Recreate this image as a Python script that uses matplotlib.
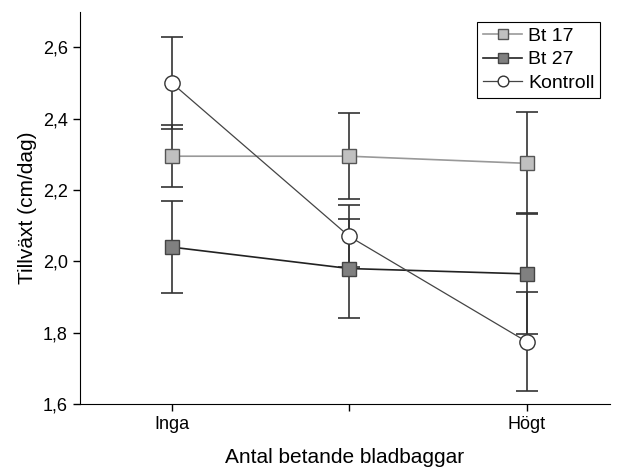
import matplotlib.pyplot as plt
import numpy as np

plt.rcParams['font.family'] = ['Liberation Sans', 'DejaVu Sans']

# data
levels = ['Inga', '', 'Högt']
bt17 = [2.295, 2.295, 2.275]
bt17_err = [0.087, 0.12, 0.143]
bt27 = [2.04, 1.98, 1.965]
bt27_err = [0.13, 0.14, 0.17]
kontroll = [2.50, 2.07, 1.775]
kontroll_err = [0.13, 0.087, 0.138]

x = np.arange(len(levels))

fig = plt.figure(figsize=(6.18, 4.72), dpi=100)
ax = fig.add_axes([0.129, 0.144, 0.858, 0.831])

# error bars first (under the markers)
for vals, errs in [(bt17, bt17_err), (bt27, bt27_err), (kontroll, kontroll_err)]:
    ax.errorbar(x, vals, yerr=errs, fmt='none', ecolor='#333333',
                elinewidth=1.2, capsize=8, capthick=1.2, zorder=2)

ax.plot(x, bt17, '-s', color='#999999', lw=1.2, ms=10, mfc='#c0c0c0',
        mec='#555555', mew=1, label='Bt 17', zorder=3)
ax.plot(x, bt27, '-s', color='#222222', lw=1.2, ms=10, mfc='#808080',
        mec='#444444', mew=1, label='Bt 27', zorder=3)
ax.plot(x, kontroll, '-o', color='#444444', lw=0.9, ms=11, mfc='white',
        mec='#333333', mew=1, label='Kontroll', zorder=4)

ax.set_xlim(-0.52, 2.47)
ax.set_ylim(1.6, 2.7)
ax.set_yticks([1.6, 1.8, 2.0, 2.2, 2.4, 2.6])
ax.set_yticklabels(['1,6', '1,8', '2,0', '2,2', '2,4', '2,6'])
ax.set_xticks(x)
ax.set_xticklabels(levels)
ax.tick_params(labelsize=13, length=5, width=1, direction='out')

ax.spines['top'].set_visible(False)
ax.spines['right'].set_visible(False)

ax.set_ylabel('Tillväxt (cm/dag)', fontsize=15)
ax.set_xlabel('Antal betande bladbaggar', fontsize=15, labelpad=11)

leg = ax.legend(loc='upper right', fontsize=14, fancybox=False,
                edgecolor='black', framealpha=1, borderpad=0.3,
                handlelength=2.0, handletextpad=0.3, labelspacing=0.3,
                markerscale=0.7, bbox_to_anchor=(1.0, 1.0))
leg.get_frame().set_linewidth(0.8)

fig.savefig('out.png', dpi=100)
